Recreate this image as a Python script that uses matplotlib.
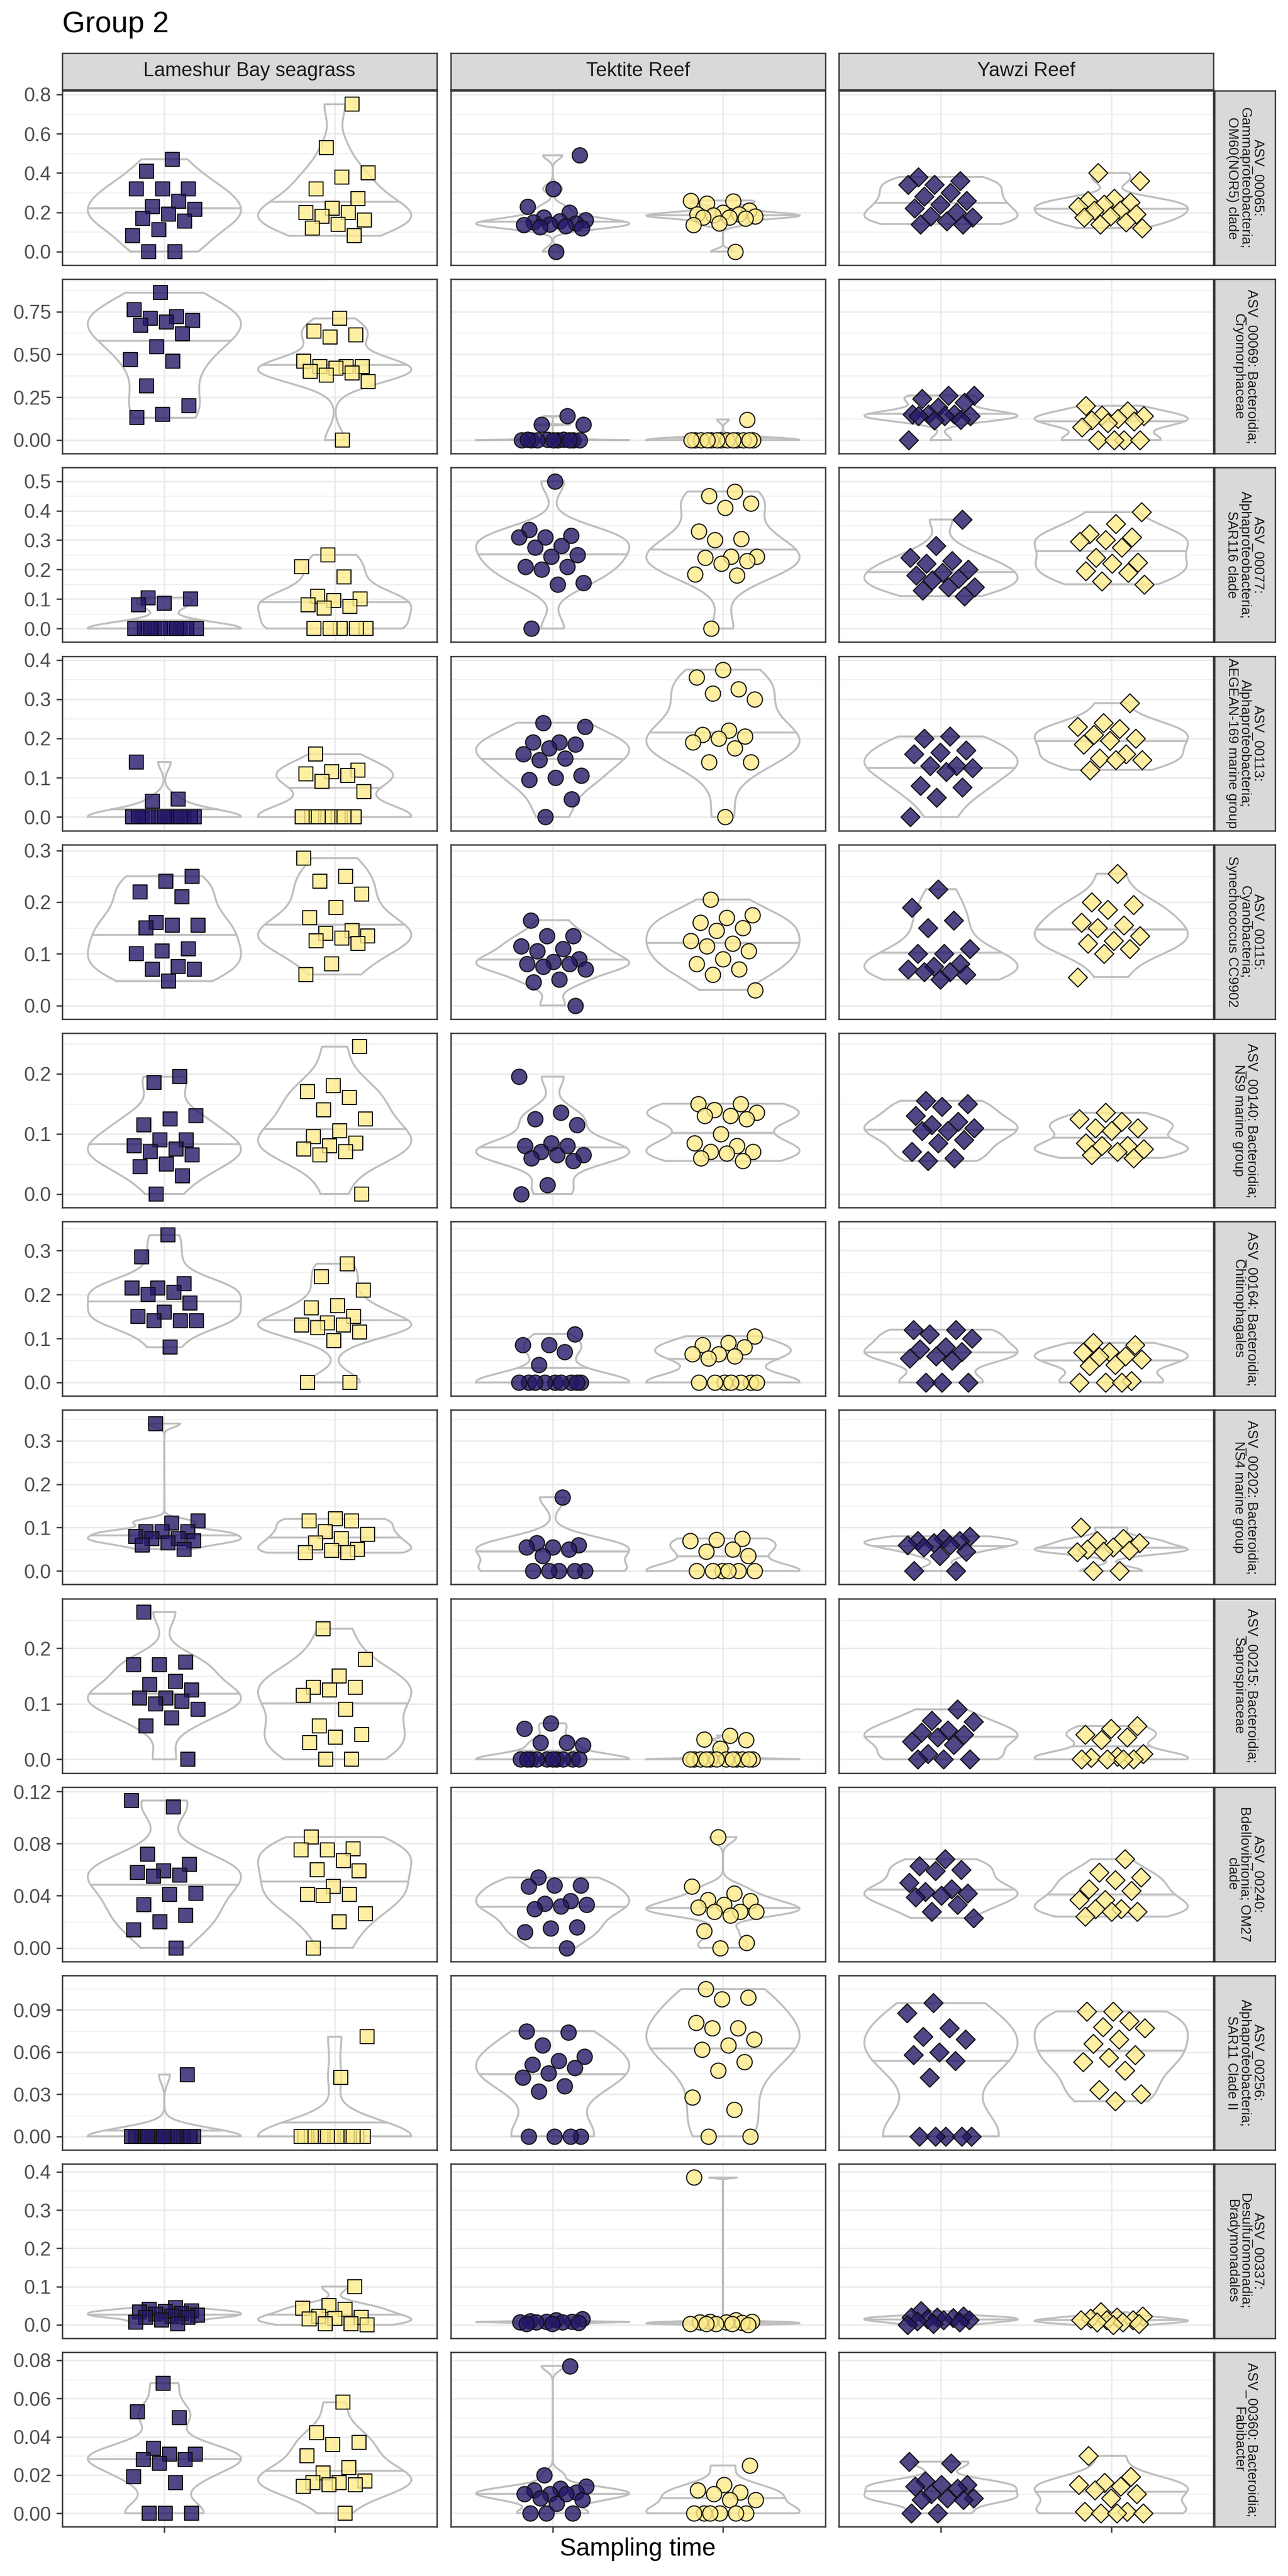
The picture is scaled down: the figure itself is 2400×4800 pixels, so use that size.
import numpy as np
import matplotlib
matplotlib.use("Agg")
import matplotlib.pyplot as plt
from matplotlib.colors import to_rgba

plt.rcParams['font.family'] = ['Liberation Sans', 'DejaVu Sans']

# ---- data ----
sites = ["Lameshur Bay seagrass", "Tektite Reef", "Yawzi Reef"]

asv_labels = [
    "ASV_00065:\nGammaproteobacteria;\nOM60(NOR5) clade",
    "ASV_00069: Bacteroidia;\nCryomorphaceae",
    "ASV_00077:\nAlphaproteobacteria;\nSAR116 clade",
    "ASV_00113:\nAlphaproteobacteria;\nAEGEAN-169 marine group",
    "ASV_00115:\nCyanobacteria;\nSynechococcus CC9902",
    "ASV_00140: Bacteroidia;\nNS9 marine group",
    "ASV_00164: Bacteroidia;\nChitinophagales",
    "ASV_00202: Bacteroidia;\nNS4 marine group",
    "ASV_00215: Bacteroidia;\nSaprospiraceae",
    "ASV_00240:\nBdellovibrionia; OM27\nclade",
    "ASV_00256:\nAlphaproteobacteria;\nSAR11 Clade II",
    "ASV_00337:\nDesulfuromonadia;\nBradymonadales",
    "ASV_00360: Bacteroidia;\nFabibacter",
]

# each ASV: one (time 1, time 2) pair per site
asv_00065 = [
    ([0.47, 0.41, 0.32, 0.32, 0.32, 0.255, 0.23, 0.215, 0.19, 0.17, 0.155, 0.11, 0.08, 0.0, 0.0],
     [0.75, 0.53, 0.40, 0.38, 0.32, 0.27, 0.22, 0.20, 0.20, 0.18, 0.16, 0.14, 0.12, 0.08]),
    ([0.49, 0.32, 0.23, 0.20, 0.175, 0.16, 0.155, 0.15, 0.145, 0.14, 0.135, 0.13, 0.125, 0.12, 0.0],
     [0.26, 0.255, 0.245, 0.21, 0.20, 0.19, 0.19, 0.185, 0.18, 0.175, 0.175, 0.17, 0.145, 0.135, 0.0]),
    ([0.38, 0.36, 0.34, 0.34, 0.30, 0.28, 0.26, 0.24, 0.22, 0.20, 0.18, 0.175, 0.155, 0.14, 0.14],
     [0.40, 0.36, 0.27, 0.26, 0.25, 0.24, 0.23, 0.21, 0.21, 0.19, 0.18, 0.175, 0.15, 0.14, 0.12]),
]
asv_00069 = [
    ([0.86, 0.76, 0.72, 0.71, 0.70, 0.69, 0.67, 0.62, 0.545, 0.47, 0.46, 0.315, 0.20, 0.15, 0.13],
     [0.71, 0.635, 0.615, 0.60, 0.46, 0.43, 0.43, 0.43, 0.42, 0.40, 0.39, 0.38, 0.34, 0.0]),
    ([0.14, 0.09, 0.09, 0.0, 0.0, 0.0, 0.002, 0.0, 0.004, 0.0, 0.0, 0.0, 0.003, 0.0],
     [0.12, 0.0, 0.0, 0.0, 0.0, 0.0, 0.0, 0.0, 0.0, 0.0, 0.0, 0.0, 0.0, 0.0]),
    ([0.26, 0.26, 0.24, 0.22, 0.19, 0.15, 0.15, 0.15, 0.14, 0.14, 0.14, 0.12, 0.115, 0.0],
     [0.20, 0.17, 0.145, 0.14, 0.125, 0.115, 0.11, 0.10, 0.075, 0.0, 0.0, 0.0, 0.0]),
]
asv_00077 = [
    ([0.105, 0.10, 0.085, 0.08, 0.0, 0.0, 0.0, 0.0, 0.0, 0.0, 0.0, 0.0, 0.0, 0.0],
     [0.25, 0.21, 0.175, 0.11, 0.10, 0.095, 0.08, 0.075, 0.07, 0.0, 0.0, 0.0, 0.0, 0.0]),
    ([0.50, 0.335, 0.315, 0.31, 0.31, 0.28, 0.275, 0.25, 0.245, 0.21, 0.21, 0.20, 0.155, 0.15, 0.0],
     [0.465, 0.45, 0.425, 0.41, 0.33, 0.305, 0.30, 0.245, 0.245, 0.24, 0.23, 0.22, 0.185, 0.18, 0.0]),
    ([0.37, 0.28, 0.24, 0.23, 0.22, 0.20, 0.19, 0.18, 0.17, 0.165, 0.14, 0.14, 0.13, 0.11],
     [0.395, 0.355, 0.32, 0.31, 0.30, 0.295, 0.275, 0.24, 0.225, 0.22, 0.195, 0.19, 0.16, 0.15]),
]
asv_00113 = [
    ([0.14, 0.045, 0.04, 0.0, 0.0, 0.0, 0.0, 0.0, 0.0, 0.0, 0.0, 0.0, 0.0, 0.0, 0.0],
     [0.16, 0.12, 0.115, 0.11, 0.105, 0.09, 0.065, 0.0, 0.0, 0.0, 0.0, 0.0, 0.0, 0.0]),
    ([0.24, 0.23, 0.19, 0.19, 0.185, 0.175, 0.16, 0.15, 0.145, 0.105, 0.10, 0.095, 0.045, 0.0],
     [0.375, 0.355, 0.325, 0.315, 0.30, 0.22, 0.21, 0.205, 0.20, 0.19, 0.175, 0.14, 0.14, 0.0]),
    ([0.205, 0.20, 0.17, 0.165, 0.16, 0.13, 0.13, 0.125, 0.115, 0.08, 0.075, 0.05, 0.0],
     [0.29, 0.24, 0.23, 0.225, 0.21, 0.20, 0.195, 0.185, 0.16, 0.15, 0.145, 0.145, 0.12]),
]
asv_00115 = [
    ([0.25, 0.24, 0.22, 0.21, 0.16, 0.155, 0.155, 0.15, 0.11, 0.105, 0.10, 0.075, 0.07, 0.07, 0.047],
     [0.285, 0.25, 0.24, 0.215, 0.19, 0.17, 0.145, 0.14, 0.135, 0.13, 0.125, 0.12, 0.08, 0.06]),
    ([0.165, 0.135, 0.135, 0.115, 0.11, 0.105, 0.09, 0.085, 0.08, 0.08, 0.075, 0.07, 0.05, 0.045, 0.0],
     [0.205, 0.175, 0.17, 0.16, 0.15, 0.145, 0.125, 0.12, 0.115, 0.105, 0.09, 0.08, 0.07, 0.06, 0.03]),
    ([0.225, 0.19, 0.165, 0.15, 0.11, 0.10, 0.10, 0.08, 0.075, 0.07, 0.065, 0.065, 0.06, 0.05],
     [0.255, 0.20, 0.195, 0.185, 0.16, 0.155, 0.15, 0.135, 0.125, 0.12, 0.11, 0.10, 0.055]),
]
asv_00140 = [
    ([0.195, 0.185, 0.13, 0.125, 0.115, 0.09, 0.09, 0.08, 0.075, 0.07, 0.065, 0.05, 0.045, 0.03, 0.0],
     [0.245, 0.18, 0.17, 0.16, 0.14, 0.125, 0.105, 0.095, 0.085, 0.08, 0.075, 0.07, 0.065, 0.0]),
    ([0.195, 0.135, 0.125, 0.115, 0.085, 0.08, 0.08, 0.07, 0.065, 0.065, 0.06, 0.055, 0.015, 0.0],
     [0.15, 0.15, 0.14, 0.135, 0.13, 0.13, 0.125, 0.10, 0.085, 0.08, 0.07, 0.07, 0.068, 0.06, 0.055]),
    ([0.155, 0.15, 0.145, 0.13, 0.12, 0.115, 0.11, 0.105, 0.105, 0.09, 0.085, 0.07, 0.06, 0.055],
     [0.135, 0.125, 0.12, 0.11, 0.11, 0.105, 0.085, 0.08, 0.08, 0.075, 0.07, 0.065, 0.06]),
]
asv_00164 = [
    ([0.335, 0.285, 0.225, 0.215, 0.215, 0.205, 0.20, 0.18, 0.16, 0.15, 0.14, 0.14, 0.14, 0.08],
     [0.27, 0.24, 0.21, 0.175, 0.17, 0.15, 0.135, 0.13, 0.13, 0.125, 0.115, 0.095, 0.0, 0.0]),
    ([0.11, 0.085, 0.085, 0.07, 0.04, 0.0, 0.0, 0.0, 0.0, 0.0, 0.0, 0.0, 0.0, 0.0],
     [0.105, 0.09, 0.085, 0.08, 0.065, 0.065, 0.06, 0.055, 0.0, 0.0, 0.0, 0.0, 0.0, 0.0, 0.0]),
    ([0.12, 0.12, 0.11, 0.10, 0.08, 0.075, 0.07, 0.06, 0.055, 0.05, 0.0, 0.0, 0.0],
     [0.09, 0.085, 0.07, 0.068, 0.06, 0.058, 0.052, 0.04, 0.038, 0.003, 0.0, 0.0, 0.0]),
]
asv_00202 = [
    ([0.34, 0.115, 0.11, 0.09, 0.09, 0.09, 0.08, 0.075, 0.075, 0.07, 0.065, 0.06, 0.05],
     [0.12, 0.115, 0.115, 0.09, 0.085, 0.075, 0.065, 0.05, 0.047, 0.042, 0.042]),
    ([0.17, 0.065, 0.06, 0.055, 0.055, 0.05, 0.035, 0.0, 0.0, 0.0, 0.0, 0.0],
     [0.075, 0.072, 0.07, 0.05, 0.045, 0.035, 0.0, 0.0, 0.0, 0.0, 0.0, 0.0]),
    ([0.08, 0.075, 0.07, 0.07, 0.065, 0.06, 0.06, 0.055, 0.045, 0.035, 0.0, 0.0],
     [0.10, 0.075, 0.07, 0.065, 0.055, 0.05, 0.047, 0.045, 0.044, 0.0, 0.0]),
]
asv_00215 = [
    ([0.265, 0.175, 0.17, 0.17, 0.14, 0.135, 0.125, 0.11, 0.11, 0.105, 0.10, 0.09, 0.075, 0.06, 0.0],
     [0.235, 0.18, 0.15, 0.13, 0.13, 0.125, 0.115, 0.09, 0.06, 0.045, 0.04, 0.03, 0.0, 0.0]),
    ([0.065, 0.055, 0.03, 0.03, 0.025, 0.0, 0.0, 0.0, 0.0, 0.0, 0.0, 0.0, 0.0, 0.0, 0.0],
     [0.043, 0.036, 0.035, 0.02, 0.0, 0.0, 0.0, 0.0, 0.0, 0.0, 0.0, 0.0, 0.0, 0.0, 0.0, 0.0]),
    ([0.09, 0.07, 0.068, 0.052, 0.049, 0.045, 0.04, 0.032, 0.026, 0.01, 0.0, 0.0, 0.0],
     [0.06, 0.055, 0.045, 0.04, 0.035, 0.01, 0.005, 0.003, 0.0, 0.0, 0.0, 0.0]),
]
asv_00240 = [
    ([0.113, 0.108, 0.072, 0.064, 0.059, 0.058, 0.056, 0.055, 0.042, 0.041, 0.033, 0.025, 0.02, 0.014, 0.0],
     [0.085, 0.076, 0.075, 0.075, 0.067, 0.06, 0.059, 0.047, 0.041, 0.041, 0.04, 0.026, 0.02, 0.0]),
    ([0.054, 0.048, 0.048, 0.047, 0.036, 0.034, 0.033, 0.032, 0.03, 0.016, 0.015, 0.012, 0.0],
     [0.085, 0.047, 0.042, 0.037, 0.036, 0.033, 0.031, 0.028, 0.028, 0.028, 0.025, 0.013, 0.004, 0.0]),
    ([0.068, 0.063, 0.06, 0.059, 0.05, 0.045, 0.043, 0.042, 0.04, 0.039, 0.033, 0.028, 0.023],
     [0.068, 0.058, 0.054, 0.052, 0.045, 0.044, 0.037, 0.037, 0.03, 0.03, 0.028, 0.028, 0.024]),
]
asv_00256 = [
    ([0.044, 0.0, 0.0, 0.0, 0.0, 0.0, 0.0, 0.0, 0.0, 0.0, 0.0, 0.0, 0.0, 0.0, 0.0],
     [0.071, 0.042, 0.0, 0.0, 0.0, 0.0, 0.0, 0.0, 0.0, 0.0, 0.0, 0.0, 0.0, 0.0]),
    ([0.075, 0.074, 0.065, 0.057, 0.054, 0.051, 0.049, 0.045, 0.042, 0.036, 0.032, 0.0, 0.0, 0.0, 0.0],
     [0.105, 0.099, 0.098, 0.081, 0.077, 0.077, 0.069, 0.065, 0.062, 0.053, 0.047, 0.028, 0.019, 0.0, 0.0]),
    ([0.095, 0.088, 0.077, 0.071, 0.069, 0.06, 0.058, 0.054, 0.042, 0.0, 0.0, 0.0, 0.0, 0.0],
     [0.089, 0.089, 0.082, 0.078, 0.077, 0.069, 0.066, 0.058, 0.056, 0.053, 0.047, 0.033, 0.03, 0.025]),
]
asv_00337 = [
    ([0.045, 0.04, 0.036, 0.035, 0.033, 0.03, 0.028, 0.025, 0.023, 0.02, 0.02, 0.012, 0.007, 0.003],
     [0.10, 0.05, 0.043, 0.041, 0.023, 0.02, 0.017, 0.015, 0.003, 0.003, 0.0]),
    ([0.016, 0.012, 0.01, 0.008, 0.008, 0.007, 0.007, 0.007, 0.005, 0.003, 0.003],
     [0.385, 0.013, 0.008, 0.008, 0.007, 0.007, 0.005, 0.003, 0.003, 0.003, 0.003, 0.0]),
    ([0.036, 0.023, 0.02, 0.02, 0.018, 0.015, 0.012, 0.012, 0.01, 0.007, 0.003, 0.0],
     [0.033, 0.023, 0.02, 0.017, 0.012, 0.012, 0.012, 0.007, 0.007, 0.003, 0.0]),
]
asv_00360 = [
    ([0.068, 0.053, 0.05, 0.034, 0.031, 0.031, 0.028, 0.028, 0.026, 0.019, 0.016, 0.0, 0.0, 0.0],
     [0.058, 0.042, 0.037, 0.036, 0.03, 0.024, 0.021, 0.017, 0.016, 0.016, 0.015, 0.015, 0.014, 0.0]),
    ([0.077, 0.02, 0.014, 0.013, 0.012, 0.011, 0.01, 0.01, 0.01, 0.008, 0.007, 0.005, 0.0, 0.0, 0.0],
     [0.025, 0.015, 0.012, 0.011, 0.01, 0.007, 0.007, 0.0, 0.0, 0.0, 0.0, 0.0, 0.0]),
    ([0.027, 0.026, 0.017, 0.015, 0.015, 0.014, 0.013, 0.01, 0.008, 0.008, 0.007, 0.007, 0.0, 0.0],
     [0.03, 0.019, 0.016, 0.015, 0.014, 0.012, 0.01, 0.008, 0.001, 0.001, 0.0, 0.0, 0.0]),
]

rows = [asv_00065, asv_00069, asv_00077, asv_00113, asv_00115, asv_00140, asv_00164,
        asv_00202, asv_00215, asv_00240, asv_00256, asv_00337, asv_00360]

row_ticks = [
    ["0.0", "0.2", "0.4", "0.6", "0.8"],
    ["0.00", "0.25", "0.50", "0.75"],
    ["0.0", "0.1", "0.2", "0.3", "0.4", "0.5"],
    ["0.0", "0.1", "0.2", "0.3", "0.4"],
    ["0.0", "0.1", "0.2", "0.3"],
    ["0.0", "0.1", "0.2"],
    ["0.0", "0.1", "0.2", "0.3"],
    ["0.0", "0.1", "0.2", "0.3"],
    ["0.0", "0.1", "0.2"],
    ["0.00", "0.04", "0.08", "0.12"],
    ["0.00", "0.03", "0.06", "0.09"],
    ["0.0", "0.1", "0.2", "0.3", "0.4"],
    ["0.00", "0.02", "0.04", "0.06", "0.08"],
]

time_fills = ["#261868", "#FFEC8B"]
site_markers = ["s", "o", "D"]
site_msize = [6.4, 6.8, 6.0]

# ---- layout (pixels of a 2400 x 4800 canvas) ----
W, H = 2400, 4800
col_left = [116, 839.5, 1563]
col_w = 698
row_top0, row_step, row_h = 169, 351.2, 325


def fig_rect(x, y, w, h):
    return [x / W, 1 - (y + h) / H, w / W, h / H]


def density(vals):
    # gaussian KDE with R's bw.nrd0, trimmed to the data range
    v = np.asarray(vals, float)
    n = len(v)
    sd = v.std(ddof=1)
    q75, q25 = np.percentile(v, [75, 25])
    lo = min(sd, (q75 - q25) / 1.34)
    if lo == 0:
        lo = sd or abs(v[0]) or 1.0
    bw = 0.9 * lo * n ** -0.2
    ys = np.linspace(v.min(), v.max(), 512)
    d = np.exp(-0.5 * ((ys[:, None] - v[None, :]) / bw) ** 2).sum(1) / (n * bw * np.sqrt(2 * np.pi))
    return ys, d


def draw_violin(ax, x0, vals):
    ys, d = density(vals)
    half = d / d.max() * 0.45
    xs = np.concatenate([x0 - half, (x0 + half)[::-1], [x0 - half[0]]])
    yy = np.concatenate([ys, ys[::-1], [ys[0]]])
    ax.plot(xs, yy, color="#BEBEBE", lw=0.85, zorder=2, solid_joinstyle="round")
    cdf = np.cumsum(d) / d.sum()
    ymed = np.interp(0.5, cdf, ys)
    wm = np.interp(ymed, ys, half)
    ax.plot([x0 - wm, x0 + wm], [ymed, ymed], color="#BEBEBE", lw=0.85, zorder=2)


fig = plt.figure(figsize=(8, 16), dpi=300)

for r, row in enumerate(rows):
    top = row_top0 + r * row_step
    allv = np.concatenate([np.asarray(g, float) for site in row for g in site])
    rng = allv.max() - allv.min()
    ylo, yhi = allv.min() - 0.092 * rng, allv.max() + 0.092 * rng
    ticks = [float(t) for t in row_ticks[r]]
    step = ticks[1] - ticks[0]
    minors = [t + step / 2 for t in [ticks[0] - step] + ticks]
    minors = [m for m in minors if ylo < m < yhi]

    for c, site in enumerate(row):
        ax = fig.add_axes(fig_rect(col_left[c], top, col_w, row_h))
        ax.set_xlim(0.4, 2.6)
        ax.set_ylim(ylo, yhi)
        ax.set_xticks([1, 2])
        ax.set_yticks(ticks)
        ax.set_yticks(minors, minor=True)
        ax.grid(which="major", color="#EBEBEB", lw=0.65)
        ax.grid(which="minor", axis="y", color="#EBEBEB", lw=0.35)
        ax.set_axisbelow(True)
        for sp in ax.spines.values():
            sp.set_color("#333333")
            sp.set_linewidth(0.6)
            sp.set_zorder(5)
        ax.tick_params(which="minor", length=0)
        ax.tick_params(axis="y", colors="#333333", length=2.75, width=0.6,
                       labelsize=8.8, labelcolor="#4D4D4D", pad=2.2,
                       left=(c == 0), labelleft=(c == 0))
        ax.set_yticklabels(row_ticks[r])
        ax.tick_params(axis="x", colors="#333333", length=2.75, width=0.6,
                       bottom=(r == len(rows) - 1), labelbottom=False)

        for t, vals in enumerate(site):
            x0 = t + 1
            draw_violin(ax, x0, vals)
            n = len(vals)
            start = 0.137 * (r * 6 + c * 2 + t)
            frac = (np.arange(1, n + 1) * 0.6180339887 + start) % 1.0
            xj = x0 + (frac - 0.5) * 0.4
            ax.scatter(xj, vals, marker=site_markers[c], s=site_msize[c] ** 2,
                       facecolors=to_rgba(time_fills[t], 0.8), edgecolors="#111111",
                       linewidths=0.5, zorder=3, clip_on=False)

    # right strip with ASV name
    sax = fig.add_axes(fig_rect(2263, top, 113, row_h))
    sax.set_facecolor("#D9D9D9")
    sax.set_xticks([])
    sax.set_yticks([])
    for sp in sax.spines.values():
        sp.set_color("#333333")
        sp.set_linewidth(0.6)
    sax.text(0.5, 0.5, asv_labels[r], rotation=270, ha="center", va="center",
             fontsize=6.2, color="#1A1A1A", linespacing=1.0, transform=sax.transAxes,
             multialignment="center")

# top strips with site names
for c, name in enumerate(sites):
    tax = fig.add_axes(fig_rect(col_left[c], 99, col_w, 68))
    tax.set_facecolor("#D9D9D9")
    tax.set_xticks([])
    tax.set_yticks([])
    for sp in tax.spines.values():
        sp.set_color("#333333")
        sp.set_linewidth(0.6)
    tax.text(0.5, 0.5, name, ha="center", va="center", fontsize=8.8,
             color="#1A1A1A", transform=tax.transAxes)

fig.text(116 / W, 1 - 46 / H, "Group 2", fontsize=13.2, ha="left", va="center")
fig.text(1188 / W, 1 - 4750 / H, "Sampling time", fontsize=11, ha="center", va="center")

fig.savefig("out.png", dpi=300)
